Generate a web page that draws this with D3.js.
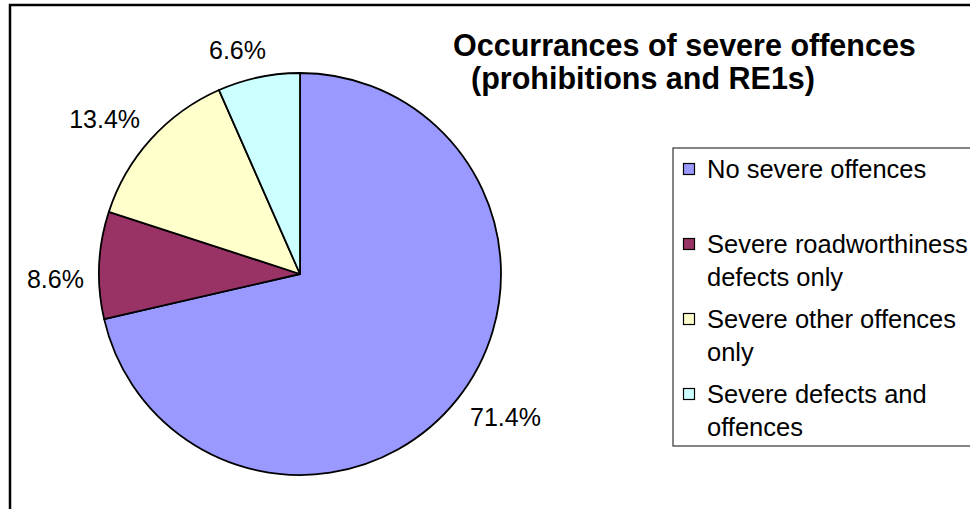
<!DOCTYPE html>
<html>
<head>
<meta charset="utf-8">
<script src="https://cdn.jsdelivr.net/npm/d3@7"></script>
<style>
  html, body { margin: 0; padding: 0; background: #fff; }
  svg { display: block; font-family: "Liberation Sans", Arial, sans-serif; }
</style>
</head>
<body>
<svg id="chart" width="970" height="509"></svg>
<script>
const categories = [
  "No severe offences",
  "Severe roadworthiness defects only",
  "Severe other offences only",
  "Severe defects and offences"
];
const values = [71.4, 8.6, 13.4, 6.6];
const colors = ["#9999FF", "#993366", "#FFFFCC", "#CCFFFF"];
const legendLines = [
  ["No severe offences"],
  ["Severe roadworthiness", "defects only"],
  ["Severe other offences", "only"],
  ["Severe defects and", "offences"]
];
const titleLines = ["Occurrances of severe offences", "(prohibitions and RE1s)"];

const svg = d3.select("#chart");
const W = 970, H = 509;

// outer chart frame
svg.append("rect")
  .attr("x", 10).attr("y", 5)
  .attr("width", W + 20).attr("height", H + 20)
  .attr("fill", "#fff").attr("stroke", "#000").attr("stroke-width", 2.5);

// pie
const cx = 300, cy = 274, r = 201;
const data = categories.map((c, i) => ({ name: c, value: values[i], color: colors[i] }));
const pie = d3.pie().sort(null).value(d => d.value).startAngle(0).endAngle(2 * Math.PI);
const arcs = pie(data);
const arc = d3.arc().innerRadius(0).outerRadius(r);

const g = svg.append("g").attr("transform", `translate(${cx},${cy})`);
g.selectAll("path").data(arcs).join("path")
  .attr("d", arc)
  .attr("fill", d => d.data.color)
  .attr("stroke", "#000")
  .attr("stroke-width", 1.8)
  .attr("stroke-linejoin", "round");

// percentage labels
const fmt = d3.format(".1f");
const labelFont = 25, capH = 18, gap = 15, angOff = -0.065;
arcs.forEach(a => {
  const t = g.append("text")
    .attr("font-size", labelFont)
    .attr("fill", "#000")
    .attr("text-anchor", "middle")
    .text(fmt(a.data.value) + "%");
  const w = t.node().getComputedTextLength();
  const ang = (a.startAngle + a.endAngle) / 2 + angOff;
  const dx = Math.sin(ang), dy = -Math.cos(ang);
  const dist = r + gap + Math.abs(dx) * w / 2 + Math.abs(dy) * capH / 2;
  t.attr("x", dx * dist).attr("y", dy * dist + capH / 2);
});

// title
const title = svg.append("g");
title.append("text")
  .attr("x", 453).attr("y", 56)
  .attr("font-size", 30.5).attr("font-weight", "bold")
  .text(titleLines[0]);
title.append("text")
  .attr("x", 471).attr("y", 89)
  .attr("font-size", 30.5).attr("font-weight", "bold")
  .text(titleLines[1]);

// legend
const lx = 673, ly = 148;
svg.append("rect")
  .attr("x", lx).attr("y", ly)
  .attr("width", W - lx + 20).attr("height", 298)
  .attr("fill", "#fff").attr("stroke", "#333").attr("stroke-width", 1.2);

const itemY = d3.scalePoint().domain(d3.range(categories.length)).range([178, 403]);
const lineH = 33;
const lg = svg.append("g");
data.forEach((d, i) => {
  const by = itemY(i);
  lg.append("rect")
    .attr("x", 683.5).attr("y", by - 14.5)
    .attr("width", 11).attr("height", 11)
    .attr("fill", d.color).attr("stroke", "#000").attr("stroke-width", 1.2);
  legendLines[i].forEach((ln, j) => {
    lg.append("text")
      .attr("x", 707).attr("y", by + j * lineH)
      .attr("font-size", 25.5).attr("fill", "#000")
      .text(ln);
  });
});
</script>
</body>
</html>
